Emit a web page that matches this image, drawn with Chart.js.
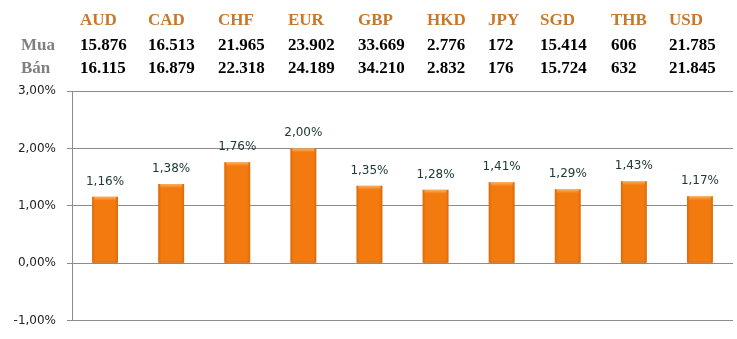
<!DOCTYPE html>
<html>
<head>
<meta charset="utf-8">
<script src="https://cdn.jsdelivr.net/npm/chart.js@4"></script>
<style>
  html, body { margin: 0; padding: 0; background: #fff; }
  #wrap { width: 737px; height: 339px; position: relative; }
</style>
</head>
<body>
<div id="wrap"><canvas id="rateChart" width="737" height="339"></canvas></div>
<script>
const currencies = ['AUD', 'CAD', 'CHF', 'EUR', 'GBP', 'HKD', 'JPY', 'SGD', 'THB', 'USD'];
const buyRates = ['15.876', '16.513', '21.965', '23.902', '33.669', '2.776', '172', '15.414', '606', '21.785'];
const sellRates = ['16.115', '16.879', '22.318', '24.189', '34.210', '2.832', '176', '15.724', '632', '21.845'];
const rowLabels = ['Mua', 'Bán'];
const changes = [1.16, 1.38, 1.76, 2.00, 1.35, 1.28, 1.41, 1.29, 1.43, 1.17];
const yTicks = [-1, 0, 1, 2, 3];

// cột chữ của bảng tỷ giá phía trên (vị trí trái của từng cột)
const colLeft = [80, 148, 218, 288, 358, 427, 488, 540, 611, 669];

function pct(v) {
    return v.toFixed(2).replace('.', ',') + '%';
}

const headerTable = {
    id: 'headerTable',
    afterDraw(chart) {
        const c = chart.ctx;
        c.save();
        c.textBaseline = 'alphabetic';
        c.textAlign = 'left';
        c.font = 'bold 17px "Liberation Serif"';
        c.fillStyle = '#c8782c';
        currencies.forEach((cur, i) => c.fillText(cur, colLeft[i], 25));
        c.fillStyle = '#808080';
        c.fillText(rowLabels[0], 21, 50);
        c.fillText(rowLabels[1], 21, 73);
        c.fillStyle = '#000';
        buyRates.forEach((v, i) => c.fillText(v, colLeft[i], 50));
        sellRates.forEach((v, i) => c.fillText(v, colLeft[i], 73));
        c.restore();
    }
};

// bóng đổ kiểu 3D trên cột + nhãn giá trị
const barLook = {
    id: 'barLook',
    afterDatasetsDraw(chart) {
        const c = chart.ctx;
        const meta = chart.getDatasetMeta(0);
        c.save();
        meta.data.forEach((bar, i) => {
            const l = bar.x - bar.width / 2, r = bar.x + bar.width / 2;
            const top = Math.min(bar.y, bar.base), bot = Math.max(bar.y, bar.base);
            const g = c.createLinearGradient(l, 0, r, 0);
            g.addColorStop(0, 'rgba(150,60,0,0.25)');
            g.addColorStop(0.12, 'rgba(150,60,0,0)');
            g.addColorStop(0.88, 'rgba(150,60,0,0)');
            g.addColorStop(1, 'rgba(150,60,0,0.25)');
            c.fillStyle = g;
            c.fillRect(l, top, r - l, bot - top);
            const tg = c.createLinearGradient(0, top, 0, top + 4);
            tg.addColorStop(0, 'rgba(255,190,120,0.8)');
            tg.addColorStop(1, 'rgba(255,190,120,0)');
            c.fillStyle = tg;
            c.fillRect(l + 2, top, r - l - 4, 4);
            c.fillStyle = 'rgba(130,55,0,0.3)';
            c.fillRect(l + 1, bot - 1, r - l - 2, 1);

            c.font = '12px "DejaVu Sans"';
            c.fillStyle = '#203838';
            c.textAlign = 'center';
            c.textBaseline = 'alphabetic';
            c.fillText(pct(changes[i]), bar.x, top - 12);
        });
        c.restore();
    }
};

new Chart(document.getElementById('rateChart'), {
    type: 'bar',
    data: {
        labels: currencies,
        datasets: [{
            data: changes,
            backgroundColor: '#f27a0e',
            barPercentage: 0.8,
            categoryPercentage: 0.49
        }]
    },
    options: {
        responsive: false,
        animation: false,
        layout: { padding: { top: 91, right: 4, bottom: 12, left: 0 } },
        plugins: {
            legend: { display: false },
            tooltip: { enabled: false }
        },
        scales: {
            x: { display: false },
            y: {
                min: -1,
                max: 3,
                afterBuildTicks(scale) {
                    scale.ticks = yTicks.map(v => ({ value: v }));
                },
                afterFit(scale) { scale.width = 72; },
                ticks: {
                    padding: 11,
                    color: '#222',
                    font: { family: 'DejaVu Sans', size: 12 },
                    callback: v => pct(v)
                },
                grid: {
                    color: '#8c8c8c',
                    lineWidth: 1,
                    tickLength: 5
                },
                border: { display: true, color: '#8c8c8c' }
            }
        }
    },
    plugins: [headerTable, barLook]
});
</script>
</body>
</html>
